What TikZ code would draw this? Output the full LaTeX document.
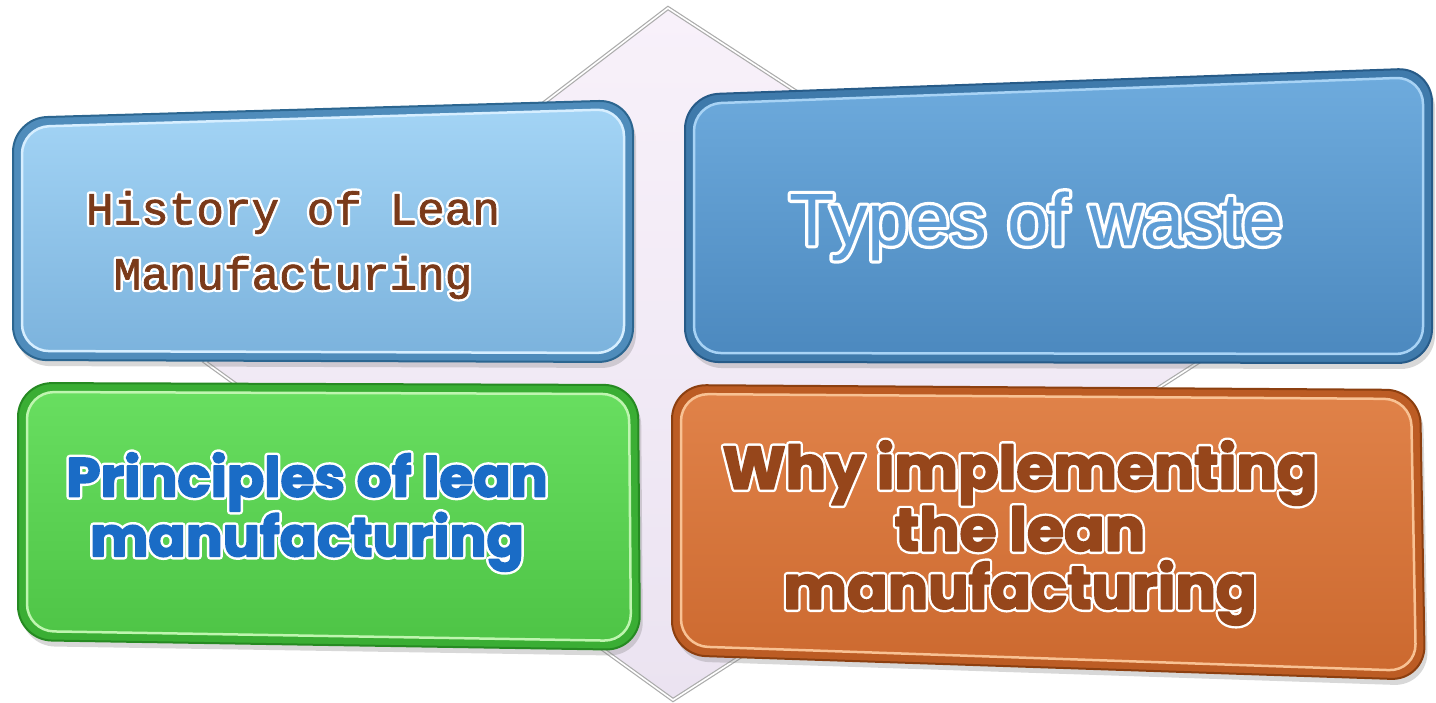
\documentclass[tikz,border=0pt]{standalone}
\usepackage{fontspec}
\usetikzlibrary{shadows,calc}
\newfontfamily\courfont{Liberation Mono}
\newfontfamily\arialfont{Liberation Sans}
\newfontfamily\heavyfont{Poppins}
\definecolor{lavtop}{HTML}{F8F1FA}
\definecolor{lavbot}{HTML}{EBE3F1}
\definecolor{bArim}{HTML}{4F8CBB}
\definecolor{bAdark}{HTML}{2C6690}
\definecolor{bAtop}{HTML}{A3D4F5}
\definecolor{bAbot}{HTML}{7CB3DD}
\definecolor{bAhi}{HTML}{D6EEFF}
\definecolor{bBrim}{HTML}{3F7AAB}
\definecolor{bBdark}{HTML}{275B88}
\definecolor{bBtop}{HTML}{6EABDD}
\definecolor{bBbot}{HTML}{4C89BF}
\definecolor{bBhi}{HTML}{A8D3F5}
\definecolor{gRrim}{HTML}{3AAE34}
\definecolor{gRdark}{HTML}{268A22}
\definecolor{gRtop}{HTML}{68DE60}
\definecolor{gRbot}{HTML}{4EC446}
\definecolor{gRhi}{HTML}{BFF5B0}
\definecolor{oRrim}{HTML}{BC5C24}
\definecolor{oRdark}{HTML}{8C3F10}
\definecolor{oRtop}{HTML}{E08249}
\definecolor{oRbot}{HTML}{CC692F}
\definecolor{oRhi}{HTML}{F8C294}
\definecolor{histtxt}{HTML}{7A3A1A}
\definecolor{wastetxt}{HTML}{5F9ED6}
\definecolor{princtxt}{HTML}{1A6CC6}
\definecolor{whytxt}{HTML}{96461B}
% outlined text: colour #1, embolden of the fill #2, embolden of the white rim #3
\newcommand\outl[4]{\special{pdf:literal direct 1 j 1 J}\rlap{\addfontfeature{FakeBold=#3}\color{white}#4}{\addfontfeature{FakeBold=#2}\color{#1}#4}}
\newcommand\gbox[9]{%
  \path[rounded corners=34pt, fill=#5, draw=#6, line width=2pt,
        drop shadow={shadow xshift=3pt, shadow yshift=-6pt, opacity=.3}]
    (#1) -- (#2) -- (#3) -- (#4) -- cycle;
  \path[rounded corners=27pt, top color=#7, bottom color=#8, draw=#9, line width=2.5pt]
    ($(#1)+(9,9)$) -- ($(#2)+(-9,9)$) -- ($(#3)+(-9,-9)$) -- ($(#4)+(9,-9)$) -- cycle;
}
\begin{document}
\begin{tikzpicture}[x=1pt,y=-1pt]
\useasboundingbox (0,0) rectangle (1436,702);
\fill[white] (0,0) rectangle (1436,702);
% diamond
\coordinate (dT) at (668,8);
\coordinate (dR) at (1205,358);
\coordinate (dB) at (673,700);
\coordinate (dL) at (205,362);
\path[top color=lavtop, bottom color=lavbot, draw=gray!65, line width=4pt]
  (dT) -- (dR) -- (dB) -- (dL) -- cycle;
\draw[white, line width=1.6pt] (dT) -- (dR) -- (dB) -- (dL) -- cycle;
% box corners
\coordinate (a1) at (13,118);  \coordinate (a2) at (633,100);
\coordinate (a3) at (633,362); \coordinate (a4) at (13,360);
\coordinate (b1) at (685,95);  \coordinate (b2) at (1432,68);
\coordinate (b3) at (1432,363);\coordinate (b4) at (685,362);
\coordinate (c1) at (18,383);  \coordinate (c2) at (638,385);
\coordinate (c3) at (640,650); \coordinate (c4) at (18,640);
\coordinate (d1) at (672,385); \coordinate (d2) at (1420,390);
\coordinate (d3) at (1425,680);\coordinate (d4) at (672,655);
\gbox{a1}{a2}{a3}{a4}{bArim}{bAdark}{bAtop}{bAbot}{bAhi}
\gbox{b1}{b2}{b3}{b4}{bBrim}{bBdark}{bBtop}{bBbot}{bBhi}
\gbox{c1}{c2}{c3}{c4}{gRrim}{gRdark}{gRtop}{gRbot}{gRhi}
\gbox{d1}{d2}{d3}{d4}{oRrim}{oRdark}{oRtop}{oRbot}{oRhi}
% texts
\node[align=center, font=\courfont\fontsize{46}{65}\selectfont]
  (hist) at (293,245) {\outl{histtxt}{1.5}{12}{History of Lean}\\\outl{histtxt}{1.5}{12}{Manufacturing}};
\node[anchor=base, font=\arialfont\fontsize{74}{80}\selectfont]
  (waste) at (1036,245) {\outl{wastetxt}{0.01}{9}{Types of waste}};
\node[align=center, font=\heavyfont\bfseries\fontsize{55}{52}\selectfont]
  (princ) at (307,512) {\outl{princtxt}{3}{12}{Principles of lean}\\\outl{princtxt}{3}{12}{manufacturing}};
\node[align=center, font=\heavyfont\bfseries\fontsize{60}{58}\selectfont]
  (why) at (1020,533) {\outl{whytxt}{3}{11}{Why implementing}\\\outl{whytxt}{3}{11}{the lean}\\\outl{whytxt}{3}{11}{manufacturing}};
\end{tikzpicture}
\end{document}
